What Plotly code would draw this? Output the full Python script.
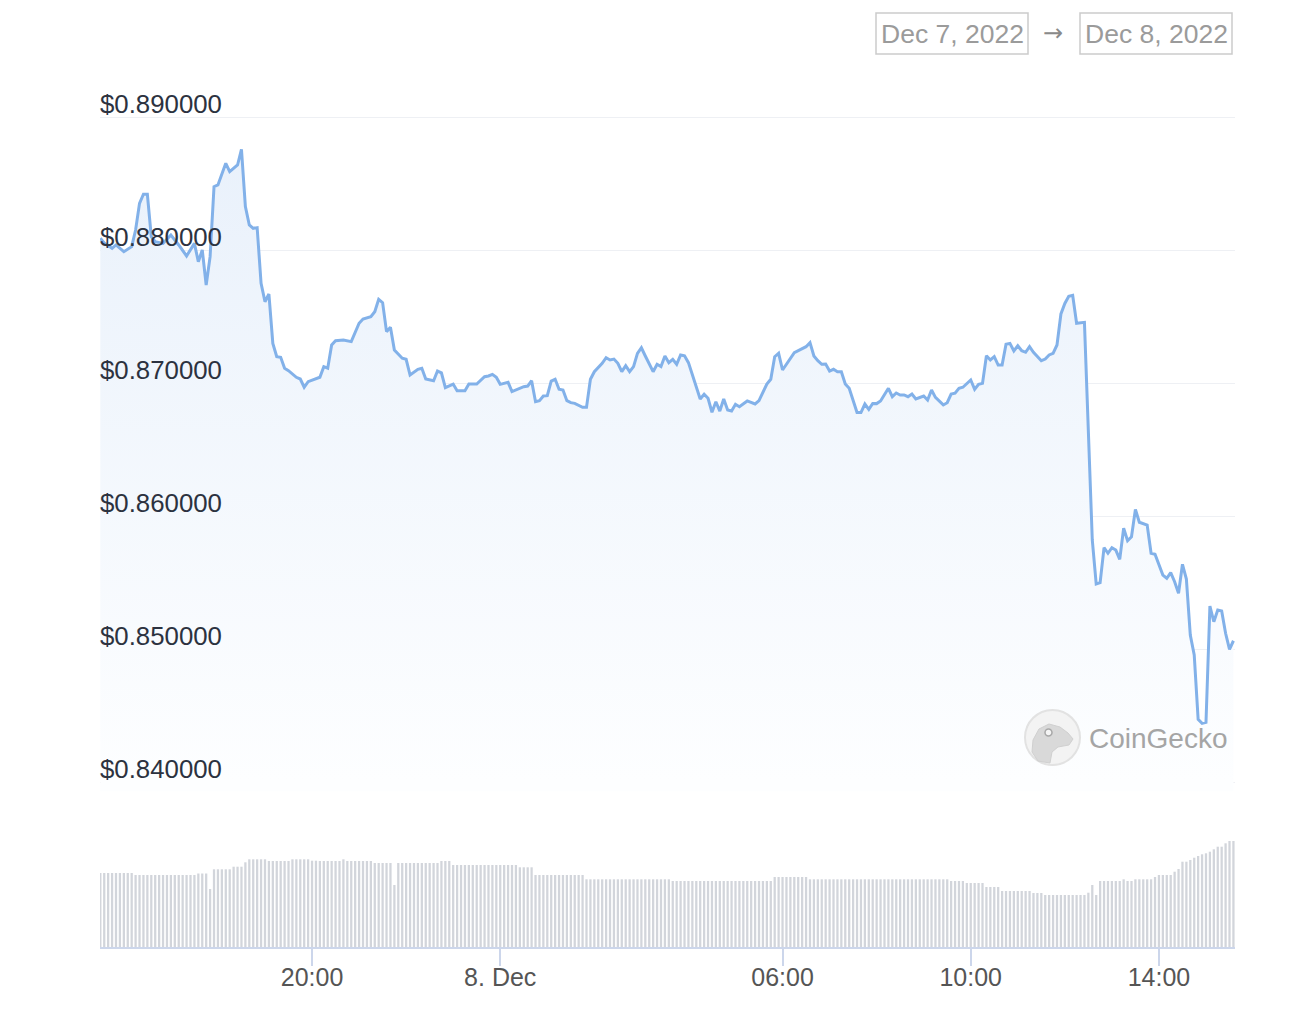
import plotly.graph_objects as go
import pandas as pd

# ---------------- data ----------------
times = [
    "12-07 15:30", "12-07 15:35", "12-07 15:45", "12-07 15:50", "12-07 16:00", "12-07 16:10", "12-07 16:15",
    "12-07 16:20", "12-07 16:25", "12-07 16:30", "12-07 16:35", "12-07 16:40", "12-07 16:50", "12-07 17:00",
    "12-07 17:10", "12-07 17:20", "12-07 17:30", "12-07 17:35", "12-07 17:40", "12-07 17:45", "12-07 17:50",
    "12-07 17:55", "12-07 18:00", "12-07 18:10", "12-07 18:15", "12-07 18:25", "12-07 18:30", "12-07 18:35",
    "12-07 18:40", "12-07 18:45", "12-07 18:50", "12-07 18:55", "12-07 19:00", "12-07 19:05", "12-07 19:10",
    "12-07 19:15", "12-07 19:20", "12-07 19:25", "12-07 19:30", "12-07 19:40", "12-07 19:45", "12-07 19:50",
    "12-07 19:55", "12-07 20:10", "12-07 20:15", "12-07 20:20", "12-07 20:25", "12-07 20:30", "12-07 20:40",
    "12-07 20:50", "12-07 21:00", "12-07 21:05", "12-07 21:15", "12-07 21:20", "12-07 21:25", "12-07 21:30",
    "12-07 21:35", "12-07 21:40", "12-07 21:45", "12-07 21:55", "12-07 22:00", "12-07 22:05", "12-07 22:15",
    "12-07 22:20", "12-07 22:25", "12-07 22:35", "12-07 22:40", "12-07 22:45", "12-07 22:50", "12-07 23:00",
    "12-07 23:05", "12-07 23:15", "12-07 23:20", "12-07 23:30", "12-07 23:40", "12-07 23:45", "12-07 23:50",
    "12-07 23:55",
    "12-08 00:00", "12-08 00:10", "12-08 00:15", "12-08 00:30", "12-08 00:35", "12-08 00:40", "12-08 00:45",
    "12-08 00:50", "12-08 00:55", "12-08 01:00", "12-08 01:05", "12-08 01:10", "12-08 01:15", "12-08 01:20",
    "12-08 01:25", "12-08 01:30", "12-08 01:35", "12-08 01:45", "12-08 01:50", "12-08 01:55", "12-08 02:00",
    "12-08 02:05", "12-08 02:10", "12-08 02:15", "12-08 02:20", "12-08 02:25", "12-08 02:30", "12-08 02:35",
    "12-08 02:40", "12-08 02:45", "12-08 02:50", "12-08 02:55", "12-08 03:00", "12-08 03:05", "12-08 03:15",
    "12-08 03:20", "12-08 03:25", "12-08 03:30", "12-08 03:35", "12-08 03:40", "12-08 03:45", "12-08 03:50",
    "12-08 03:55", "12-08 04:00", "12-08 04:05", "12-08 04:10", "12-08 04:15", "12-08 04:20", "12-08 04:25",
    "12-08 04:30", "12-08 04:35", "12-08 04:40", "12-08 04:45", "12-08 04:50", "12-08 04:55", "12-08 05:00",
    "12-08 05:05", "12-08 05:15", "12-08 05:25", "12-08 05:30", "12-08 05:40", "12-08 05:45", "12-08 05:50",
    "12-08 05:55", "12-08 06:00", "12-08 06:15", "12-08 06:20", "12-08 06:25", "12-08 06:30", "12-08 06:35",
    "12-08 06:40", "12-08 06:45", "12-08 06:50", "12-08 06:55", "12-08 07:00", "12-08 07:05", "12-08 07:10",
    "12-08 07:15", "12-08 07:20", "12-08 07:25", "12-08 07:35", "12-08 07:40", "12-08 07:45", "12-08 07:50",
    "12-08 07:55", "12-08 08:00", "12-08 08:05", "12-08 08:15", "12-08 08:20", "12-08 08:25", "12-08 08:30",
    "12-08 08:35", "12-08 08:40", "12-08 08:45", "12-08 08:50", "12-08 09:00", "12-08 09:05", "12-08 09:10",
    "12-08 09:15", "12-08 09:25", "12-08 09:30", "12-08 09:35", "12-08 09:40", "12-08 09:45", "12-08 09:50",
    "12-08 10:00", "12-08 10:05", "12-08 10:10", "12-08 10:15", "12-08 10:20", "12-08 10:25", "12-08 10:30",
    "12-08 10:35", "12-08 10:40", "12-08 10:45", "12-08 10:50", "12-08 10:55", "12-08 11:00", "12-08 11:05",
    "12-08 11:10", "12-08 11:15", "12-08 11:20", "12-08 11:30", "12-08 11:35", "12-08 11:40", "12-08 11:45",
    "12-08 11:50", "12-08 11:55", "12-08 12:00", "12-08 12:05", "12-08 12:10", "12-08 12:15", "12-08 12:25",
    "12-08 12:35", "12-08 12:40", "12-08 12:45", "12-08 12:50", "12-08 12:55", "12-08 13:00", "12-08 13:05",
    "12-08 13:10", "12-08 13:15", "12-08 13:20", "12-08 13:25", "12-08 13:30", "12-08 13:35", "12-08 13:45",
    "12-08 13:50", "12-08 13:55", "12-08 14:05", "12-08 14:10", "12-08 14:15", "12-08 14:20", "12-08 14:25",
    "12-08 14:30", "12-08 14:35", "12-08 14:40", "12-08 14:45", "12-08 14:50", "12-08 14:55", "12-08 15:00",
    "12-08 15:05", "12-08 15:10", "12-08 15:15", "12-08 15:20", "12-08 15:25", "12-08 15:30", "12-08 15:35",
]

prices = [
    0.88088, 0.88053, 0.88013, 0.88038, 0.87987, 0.88025, 0.88150,
    0.88351, 0.88419, 0.88419, 0.88100, 0.88062, 0.88050, 0.88113,
    0.88038, 0.87955, 0.88050, 0.87912, 0.88000, 0.87737, 0.87950,
    0.88476, 0.88489, 0.88652, 0.88589, 0.88639, 0.88757, 0.88326,
    0.88188, 0.88163, 0.88168, 0.87750, 0.87611, 0.87669, 0.87298,
    0.87198, 0.87193, 0.87111, 0.87093, 0.87043, 0.87030, 0.86968,
    0.87010, 0.87043, 0.87123, 0.87111, 0.87286, 0.87318, 0.87323,
    0.87311, 0.87449, 0.87481, 0.87498, 0.87536, 0.87629, 0.87604,
    0.87386, 0.87419, 0.87248, 0.87186, 0.87178, 0.87060, 0.87103,
    0.87111, 0.87030, 0.87017, 0.87090, 0.87077, 0.86965, 0.86992,
    0.86942, 0.86942, 0.86992, 0.86992, 0.87047, 0.87053, 0.87065,
    0.87043,
    0.86990, 0.87005, 0.86935, 0.86972, 0.86977, 0.87017, 0.86859,
    0.86867, 0.86902, 0.86905, 0.87015, 0.87028, 0.86953, 0.86947,
    0.86867, 0.86852, 0.86847, 0.86817, 0.86817, 0.87028, 0.87085,
    0.87115, 0.87148, 0.87190, 0.87173, 0.87180, 0.87148, 0.87085,
    0.87130, 0.87085, 0.87123, 0.87223, 0.87265, 0.87203, 0.87085,
    0.87141, 0.87123, 0.87203, 0.87153, 0.87178, 0.87141, 0.87211,
    0.87205, 0.87153, 0.87060, 0.86985, 0.86880, 0.86915, 0.86885,
    0.86780, 0.86859, 0.86789, 0.86880, 0.86797, 0.86789, 0.86840,
    0.86822, 0.86865, 0.86842, 0.86867, 0.86992, 0.87028, 0.87198,
    0.87223, 0.87098, 0.87228, 0.87243, 0.87256, 0.87273, 0.87303,
    0.87203, 0.87168, 0.87141, 0.87143, 0.87090, 0.87103, 0.87085,
    0.87085, 0.86992, 0.86960, 0.86778, 0.86778, 0.86842, 0.86802,
    0.86846, 0.86845, 0.86865, 0.86960, 0.86897, 0.86925, 0.86910,
    0.86910, 0.86897, 0.86917, 0.86880, 0.86902, 0.86872, 0.86947,
    0.86892, 0.86835, 0.86852, 0.86917, 0.86923, 0.86960, 0.86968,
    0.87023, 0.86953, 0.86990, 0.86997, 0.87205, 0.87173, 0.87198,
    0.87135, 0.87135, 0.87291, 0.87298, 0.87241, 0.87280, 0.87243,
    0.87231, 0.87273, 0.87231, 0.87168, 0.87180, 0.87211, 0.87223,
    0.87286, 0.87519, 0.87598, 0.87652, 0.87659, 0.87449, 0.87456,
    0.85820, 0.85489, 0.85499, 0.85762, 0.85720, 0.85762, 0.85744,
    0.85674, 0.85908, 0.85814, 0.85844, 0.86050, 0.85953, 0.85932,
    0.85720, 0.85712, 0.85556, 0.85532, 0.85574, 0.85506, 0.85419,
    0.85637, 0.85526, 0.85105, 0.84955, 0.84471, 0.84441, 0.84449,
    0.85323, 0.85205, 0.85293, 0.85286, 0.85118, 0.84998, 0.85062,
]

# volume (relative units), one bar per 5 minutes starting 15:30, as (level, bar count) runs
vol_start = "2022-12-07 15:30"
vol_runs = [
    (74, 9), (72, 16), (73.5, 3), (58, 1), (77.7, 5), (80.3, 3), (84.7, 1), (87.7, 5),
    (86, 6), (87.7, 5), (86.3, 2), (86, 6), (87.7, 1), (86, 7), (84, 5), (62, 1),
    (84, 11), (86, 3), (82, 17), (79.7, 4), (72, 13), (67.7, 22), (66, 26), (70, 9),
    (67.7, 36), (66, 4), (64, 5), (60, 4), (56, 8), (54, 3), (52, 11), (54.3, 1),
    (62, 1), (52, 1), (66, 6), (67.7, 1), (66, 2), (67.7, 5), (70, 1), (72, 4),
    (75.3, 1), (78, 1), (85.3, 2), (87, 1), (89.3, 1), (91, 1), (92.7, 1), (93.7, 1),
    (95.3, 1), (97.7, 1), (100.3, 2), (103.7, 1), (106, 2),
]

price_ticks = [0.84, 0.85, 0.86, 0.87, 0.88, 0.89]
x_tickvals = ["2022-12-07 20:00", "2022-12-08 00:00", "2022-12-08 06:00",
              "2022-12-08 10:00", "2022-12-08 14:00"]
x_ticktext = ["20:00", "8. Dec", "06:00", "10:00", "14:00"]
date_from = "Dec 7, 2022"
date_to = "Dec 8, 2022"

# ---------------- build ----------------
t_full = ["2022-" + t for t in times]
volumes = [lvl for lvl, n in vol_runs for _ in range(n)]
vol_times = pd.date_range(vol_start, periods=len(volumes), freq="5min")

# page geometry (the HTML body adds an 8px margin around the figure)
OFF = 8
PAGE_W, PAGE_H = 1312, 1031
P_LEFT, P_RIGHT, P_TOP, P_BOTTOM = 100, 1235, 110, 947
W, H = PAGE_W - OFF, PAGE_H - OFF
L = P_LEFT - OFF
T = P_TOP - OFF
R = W - (P_RIGHT - OFF)
B = H - (P_BOTTOM - OFF)
PW = P_RIGHT - P_LEFT
PH = P_BOTTOM - P_TOP


def px(x):
    return (x - P_LEFT) / PW


def py(y):
    return (P_BOTTOM - y) / PH


FONT = "Liberation Sans"

fig = go.Figure()
fig.add_trace(go.Bar(
    x=vol_times, y=volumes, yaxis="y2",
    marker=dict(color="#d2d5db", line=dict(width=0)),
    hoverinfo="skip", showlegend=False,
))
fig.add_trace(go.Scatter(
    x=t_full, y=prices, mode="lines",
    line=dict(color="#82b1e9", width=3),
    fill="tozeroy",
    fillgradient=dict(type="vertical", start=0.84, stop=0.888,
                      colorscale=[[0, "#fdfeff"], [1, "#e9f1fb"]]),
    hoverinfo="skip", showlegend=False,
))

price_lo, price_hi = 0.8393, 0.8903
px_per_unit = 13300.0
top_y = 117 - (price_hi - 0.89) * px_per_unit
bot_y = 782 + (0.84 - price_lo) * px_per_unit

annotations = []
for v in price_ticks:
    annotations.append(dict(
        x=0, xref="paper", xanchor="left", xshift=-2, y=v, yref="y", yanchor="middle",
        yshift=13, text=f"${v:.6f}", showarrow=False,
        font=dict(family=FONT, size=25.8, color="#2c3240"),
    ))

# date range boxes
shapes = []
for (x0, x1), label in [((876, 1028), date_from), ((1080, 1232), date_to)]:
    shapes.append(dict(type="rect", xref="paper", yref="paper",
                       x0=px(x0), x1=px(x1), y0=py(54), y1=py(13),
                       line=dict(color="#cbcbcb", width=1.5), fillcolor="rgba(0,0,0,0)"))
    annotations.append(dict(x=px((x0 + x1) / 2), y=py(34), xref="paper", yref="paper",
                            xanchor="center", yanchor="middle", text=label, showarrow=False,
                            font=dict(family=FONT, size=26.5, color="#9b9b9b")))
annotations.append(dict(x=px(1053), y=py(33), xref="paper", yref="paper",
                        xanchor="center", yanchor="middle", text="→", showarrow=False,
                        font=dict(family="DejaVu Sans", size=24, color="#8a8a8a")))
shapes.append(dict(type="line", xref="paper", yref="paper",
                   x0=px(1092), x1=px(1180), y0=py(1), y1=py(1),
                   line=dict(color="#dcdcdc", width=1.5)))

# CoinGecko watermark
shapes.append(dict(type="circle", xref="paper", yref="paper",
                   x0=px(1025), x1=px(1080), y0=py(765), y1=py(710),
                   fillcolor="#f3f3f3", line=dict(color="#e2e2e2", width=2)))
head = [(1032, 752), (1033, 740), (1039, 729), (1049, 724), (1060, 727), (1068, 733),
        (1073, 739), (1069, 745), (1058, 747), (1052, 752), (1050, 763), (1038, 761)]
path = "M " + " L ".join(f"{px(a):.5f},{py(b):.5f}" for a, b in head) + " Z"
shapes.append(dict(type="path", xref="paper", yref="paper", path=path,
                   fillcolor="#d9d9d9", line=dict(color="#d0d0d0", width=1)))
shapes.append(dict(type="circle", xref="paper", yref="paper",
                   x0=px(1045), x1=px(1052), y0=py(736), y1=py(729),
                   fillcolor="#f5f5f5", line=dict(color="#a8a8a8", width=1.5)))
annotations.append(dict(x=px(1087), y=py(738), xref="paper", yref="paper",
                        xanchor="left", yanchor="middle", text="CoinGecko", showarrow=False,
                        font=dict(family=FONT, size=28, color="#a5a5a5")))

fig.update_layout(
    width=W, height=H,
    margin=dict(l=L, r=R, t=T, b=B, pad=0),
    paper_bgcolor="white", plot_bgcolor="white",
    bargap=0.42,
    showlegend=False,
    xaxis=dict(
        type="date", anchor="y2",
        range=["2022-12-07 15:29:36", "2022-12-08 15:37:00"],
        tickvals=x_tickvals, ticktext=x_ticktext,
        ticks="outside", ticklen=17, tickwidth=1.5, tickcolor="#ccd6eb",
        ticklabelstandoff=-10,
        showline=True, linecolor="#ccd6eb", linewidth=2,
        showgrid=False, zeroline=False,
        tickfont=dict(family=FONT, size=25, color="#555555"),
    ),
    yaxis=dict(
        domain=[py(bot_y), py(top_y)],
        range=[price_lo, price_hi],
        tickvals=price_ticks, showticklabels=False,
        showgrid=True, gridcolor="#eef0f4", gridwidth=1.3,
        zeroline=False, showline=False,
    ),
    yaxis2=dict(
        domain=[0, py(800)],
        range=[0, 147],
        showticklabels=False, showgrid=False, zeroline=False, showline=False,
    ),
    annotations=annotations,
    shapes=shapes,
)

fig.write_html("out.html")
